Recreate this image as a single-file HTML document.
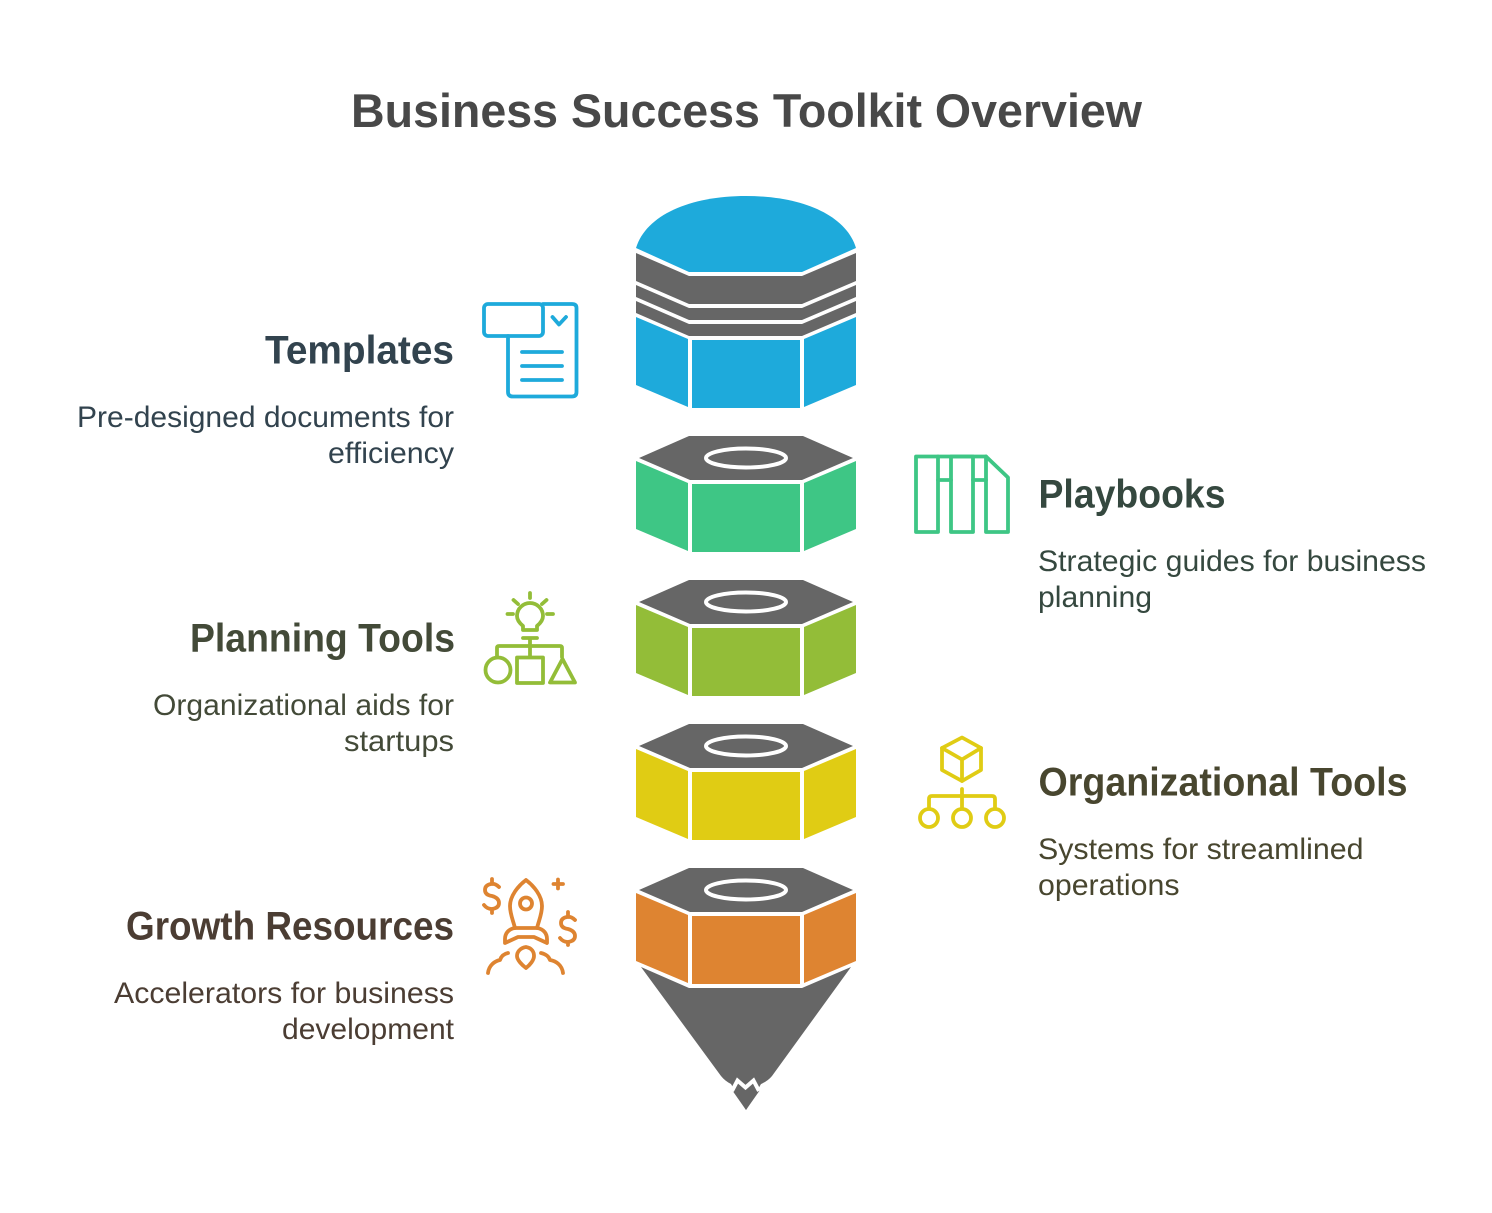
<!DOCTYPE html>
<html>
<head>
<meta charset="utf-8">
<style>
html,body{margin:0;padding:0;background:#fff;width:1492px;height:1213px;overflow:hidden}
svg{display:block}
text{font-family:"Liberation Sans",sans-serif}
.h{font-weight:700;font-size:39.5px}
.d{font-size:29.5px}
</style>
</head>
<body>
<svg width="1492" height="1213" viewBox="0 0 1492 1213" xmlns="http://www.w3.org/2000/svg">
<defs>
<g id="nut">
  <polygon points="689,0 803,0 853,22 802,44 690,44 639,22" fill="#666666"/>
  <ellipse cx="746" cy="22" rx="40" ry="9.5" fill="none" stroke="#fff" stroke-width="4"/>
</g>
</defs>

<text x="351" y="127" font-size="47.500" font-weight="700" fill="#484848" textLength="791" lengthAdjust="spacingAndGlyphs">Business Success Toolkit Overview</text>

<!-- top cap -->
<path d="M636,248 C646,215 690,196 746,196 C802,196 846,215 856,248 L802,272 H689 Z" fill="#1eaadb"/>
<polygon points="636,253 689,276 802,276 856,253 856,281 802,304 689,304 636,281" fill="#666666"/>
<polygon points="636,285 689,308 802,308 856,285 856,297 802,320 689,320 636,297" fill="#666666"/>
<polygon points="636,301 689,324 802,324 856,301 856,313 802,336 689,336 636,313" fill="#666666"/>
<polygon points="636,317 688,339 688,407 636,385" fill="#1eaadb"/>
<rect x="692" y="340" width="108" height="68" fill="#1eaadb"/>
<polygon points="804,339 856,317 856,385 804,407" fill="#1eaadb"/>

<!-- green -->
<use href="#nut" y="436"/>
<polygon points="636,461 688,483 688,551 636,529" fill="#3ec685"/>
<rect x="692" y="484" width="108" height="68" fill="#3ec685"/>
<polygon points="804,483 856,461 856,529 804,551" fill="#3ec685"/>

<!-- lime -->
<use href="#nut" y="580"/>
<polygon points="636,605 688,627 688,695 636,673" fill="#93bd38"/>
<rect x="692" y="628" width="108" height="68" fill="#93bd38"/>
<polygon points="804,627 856,605 856,673 804,695" fill="#93bd38"/>

<!-- yellow -->
<use href="#nut" y="724"/>
<polygon points="636,749 688,771 688,839 636,817" fill="#e0cc14"/>
<rect x="692" y="772" width="108" height="68" fill="#e0cc14"/>
<polygon points="804,771 856,749 856,817 804,839" fill="#e0cc14"/>

<!-- orange -->
<use href="#nut" y="868"/>
<polygon points="636,893 688,915 688,983 636,961" fill="#de8431"/>
<rect x="692" y="916" width="108" height="68" fill="#de8431"/>
<polygon points="804,915 856,893 856,961 804,983" fill="#de8431"/>

<!-- cone -->
<path d="M641,967 L689,988 H802 L851,967 L772,1076 Q768,1081 761,1084 L746,1110 L731,1084 Q725,1081 721,1076 Z" fill="#666666"/>
<polygon points="746,1110 732,1090 760,1090" fill="#666666"/>
<path d="M732,1091 L737.500,1080.500 L745.500,1087.500 L753.500,1080.500 L759,1091" fill="none" stroke="#fff" stroke-width="4"/>

<!-- Templates icon -->
<g fill="none" stroke="#1eaadb" stroke-width="3.800" stroke-linecap="round" stroke-linejoin="round">
  <rect x="484" y="304" width="59" height="32" rx="4"/>
  <path d="M543,304 H572 Q576.500,304 576.500,308 V392 Q576.500,396.500 572,396.500 H513 Q508,396.500 508,392 V336"/>
  <path d="M522,352 H562 M522,366 H562 M522,380 H562"/>
  <path d="M552.500,317 L559,324.500 L566,317"/>
</g>

<!-- Planning icon -->
<g fill="none" stroke="#93bd38" stroke-width="3.800" stroke-linecap="round" stroke-linejoin="round">
  <path d="M523,630 V626 Q517,621 517,616 A13,13 0 1 1 543,616 Q543,621 537,626 V630 Z"/>
  <path d="M530,593 V598 M513.500,600 L518,604 M546.500,600 L542,604 M507.500,614 H513 M547,614 H553"/>
  <path d="M523,638 H537 M530,638 V657 M497,657 V648 Q497,646 499,646 H560 Q562,646 562,648 V657"/>
  <circle cx="498" cy="670" r="12.500"/>
  <rect x="517" y="657.500" width="26" height="25.500"/>
  <polygon points="562.500,659 550,682.500 575,682.500"/>
</g>

<!-- Rocket icon -->
<g fill="none" stroke="#de8431" stroke-width="3.800" stroke-linecap="round" stroke-linejoin="round">
  <path d="M526,880 C518,886 510,896 510,906 C510,914 513,920 515,928 H537 C539,920 542,914 542,906 C542,896 534,886 526,880 Z"/>
  <circle cx="526" cy="903.500" r="6"/>
  <path d="M515,928 C508,929 505,934 505,939 V943 L518,937 H534 L547,943 V939 C547,934 544,929 537,928"/>
  <path d="M526,947 C520,948 517,952 517,956 C517,960 522,965 526,968 C530,965 534,960 534,956 C534,952 532,948 526,947 Z"/>
  <path d="M508,953 C503,954 501,957 500,960 C495,961 489,965 488,973"/>
  <path d="M541,953 C546,954 549,957 550,960 C556,961 562,965 563,973"/>
  <path d="M499,887 Q495,883 491,884 Q485,885 485,890 Q485,895 492,896 Q499,898 499,903 Q499,908 492,909 Q487,909 484,905 M492,879 V884 M492,909 V913"/>
  <path d="M575,920 Q571,916 567,917 Q561,918 561,923 Q561,928 568,929 Q575,931 575,936 Q575,941 568,942 Q563,942 560,938 M568,912 V917 M568,942 V945"/>
  <path d="M553.500,884 H563 M558,879.500 V888.500"/>
</g>

<!-- Playbooks icon -->
<g fill="none" stroke="#3ec685" stroke-width="3.800" stroke-linecap="round" stroke-linejoin="round">
  <rect x="916" y="456.500" width="22" height="75.500"/>
  <rect x="951" y="456.500" width="22" height="75.500"/>
  <path d="M986,456.500 V532 H1008 V477.500 L986,456.500"/>
  <path d="M938,456.500 H986 M938,480 H951 M973,480 H986"/>
</g>

<!-- Org icon -->
<g fill="none" stroke="#e0cc14" stroke-width="3.800" stroke-linecap="round" stroke-linejoin="round">
  <polygon points="962,737.500 981,748 981,770 962,781 942,770 942,748"/>
  <path d="M942,748 L962,759.500 L981,748 M962,759.500 V781"/>
  <path d="M962,789 V808 M929,808 V799 Q929,796 932,796 H992 Q995,796 995,799 V808"/>
  <circle cx="929" cy="818" r="9"/>
  <circle cx="962" cy="818" r="9"/>
  <circle cx="995" cy="818" r="9"/>
</g>

<!-- Left labels -->
<text class="h" x="265" y="363.500" fill="#32434e" textLength="189" lengthAdjust="spacingAndGlyphs">Templates</text>
<text class="d" x="77" y="427" fill="#32434e" textLength="377" lengthAdjust="spacingAndGlyphs">Pre-designed documents for</text>
<text class="d" x="328" y="463" fill="#32434e" textLength="126" lengthAdjust="spacingAndGlyphs">efficiency</text>

<text class="h" x="190" y="651.500" fill="#434a38" textLength="265" lengthAdjust="spacingAndGlyphs">Planning Tools</text>
<text class="d" x="153" y="715" fill="#434a38" textLength="301" lengthAdjust="spacingAndGlyphs">Organizational aids for</text>
<text class="d" x="344" y="751" fill="#434a38" textLength="110" lengthAdjust="spacingAndGlyphs">startups</text>

<text class="h" x="126" y="939.500" fill="#4b3d33" textLength="328" lengthAdjust="spacingAndGlyphs">Growth Resources</text>
<text class="d" x="114" y="1003" fill="#4b3d33" textLength="340" lengthAdjust="spacingAndGlyphs">Accelerators for business</text>
<text class="d" x="282" y="1039" fill="#4b3d33" textLength="172" lengthAdjust="spacingAndGlyphs">development</text>

<!-- Right labels -->
<text class="h" x="1038.500" y="507.500" fill="#35483f" textLength="187" lengthAdjust="spacingAndGlyphs">Playbooks</text>
<text class="d" x="1038" y="571" fill="#35483f" textLength="388" lengthAdjust="spacingAndGlyphs">Strategic guides for business</text>
<text class="d" x="1038" y="607" fill="#35483f" textLength="114" lengthAdjust="spacingAndGlyphs">planning</text>

<text class="h" x="1038.500" y="795.500" fill="#48462f" textLength="369" lengthAdjust="spacingAndGlyphs">Organizational Tools</text>
<text class="d" x="1038" y="859" fill="#48462f" textLength="325.500" lengthAdjust="spacingAndGlyphs">Systems for streamlined</text>
<text class="d" x="1038" y="895" fill="#48462f" textLength="141.500" lengthAdjust="spacingAndGlyphs">operations</text>
</svg>
</body>
</html>
